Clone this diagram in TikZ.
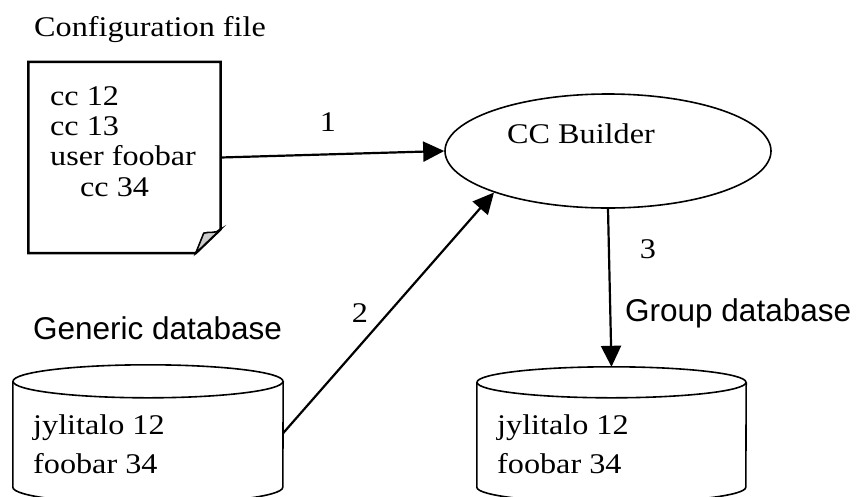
\documentclass[tikz,border=0pt]{standalone}
\usepackage{fontspec}
\setmainfont{Liberation Serif}[FakeStretch=1.13]
\setsansfont{Liberation Sans}
\usetikzlibrary{arrows.meta,calc,shapes.geometric}

% database can: node name, x radius, y radius (pt)
\newcommand{\dbcan}[3]{%
  \draw[thinline] ($(#1.north west)+(0,#3)$) -- (#1.south west)
    arc[start angle=180, end angle=360, x radius=#2pt, y radius=#3pt]
    -- ($(#1.north east)+(0,#3)$);
  \draw[thinline] ($(#1.north)+(0,#3)$) ellipse [x radius=#2pt, y radius=#3pt];
}

\tikzset{
  serif/.style={font=\fontsize{28.5}{30.3}\selectfont, inner sep=0pt},
  dbtext/.style={font=\fontsize{28.5}{38.5}\selectfont, inner sep=0pt, align=left},
  sans/.style={font=\sffamily\fontsize{31.5}{33}\selectfont, inner sep=0pt},
  thinline/.style={line width=1.6pt},
  thickline/.style={line width=2.5pt},
  flow/.style={-{Triangle[length=21pt,width=20pt]}, line width=2.2pt}
}

\begin{document}
\begin{tikzpicture}[x=1pt,y=-1pt]
  \useasboundingbox (0,0) rectangle (856,496);
  \clip (0,0) rectangle (856,496);

  % configuration file
  \node[serif, anchor=base west] (conftitle) at (34,36) {Configuration file};
  \node[minimum width=192pt, minimum height=191pt, inner sep=0pt] (conf) at (124.5,157.5) {};
  \draw[thickline, line join=miter] (conf.north west) -- (conf.north east)
    -- ($(conf.south east)+(0,-24)$) -- ($(conf.south east)+(-25,0)$)
    -- (conf.south west) -- cycle;
  \filldraw[thinline, fill=gray!40] ($(conf.south east)+(-25,0)$) -- ($(conf.south east)+(0,-24)$)
    .. controls ($(conf.south east)+(-5,-19)$) and ($(conf.south east)+(-12,-22)$) .. ($(conf.south east)+(-17,-20)$)
    -- cycle;
  \node[serif, anchor=base west, align=left] (conftext) at (50,196)
    {cc 12\\cc 13\\user foobar\\\hspace*{30pt}cc 34};

  % builder
  \node[draw, thinline, ellipse, minimum width=326pt, minimum height=114pt, inner sep=0pt] (builder) at (608,151) {};
  \node[serif, anchor=base west] (buildertext) at (507,143) {CC Builder};

  % databases
  \node[minimum width=270pt, minimum height=122pt, inner sep=0pt] (gendb) at (148,426) {};
  \dbcan{gendb}{135}{16.5}
  \node[sans, anchor=base west] (gentitle) at (33,339) {Generic database};
  \node[dbtext, anchor=base west] (gentext) at (33,473) {jylitalo 12\\foobar 34};

  \node[minimum width=269pt, minimum height=120pt, inner sep=0pt] (grpdb) at (611.5,427) {};
  \dbcan{grpdb}{134.5}{15.5}
  \node[sans, anchor=base west] (grptitle) at (625,321) {Group database};
  \node[dbtext, anchor=base west] (grptext) at (497,473) {jylitalo 12\\foobar 34};

  % flows
  \draw[flow] (conf.east) -- (builder.west);
  \node[serif, anchor=base] (one) at (328,131) {1};
  \draw[flow] (gendb.-3) -- (builder.200);
  \node[serif, anchor=base] (two) at (360,322) {2};
  \draw[flow] (builder.south) -- (grpdb.north);
  \node[serif, anchor=base] (three) at (648,258) {3};
\end{tikzpicture}
\end{document}
